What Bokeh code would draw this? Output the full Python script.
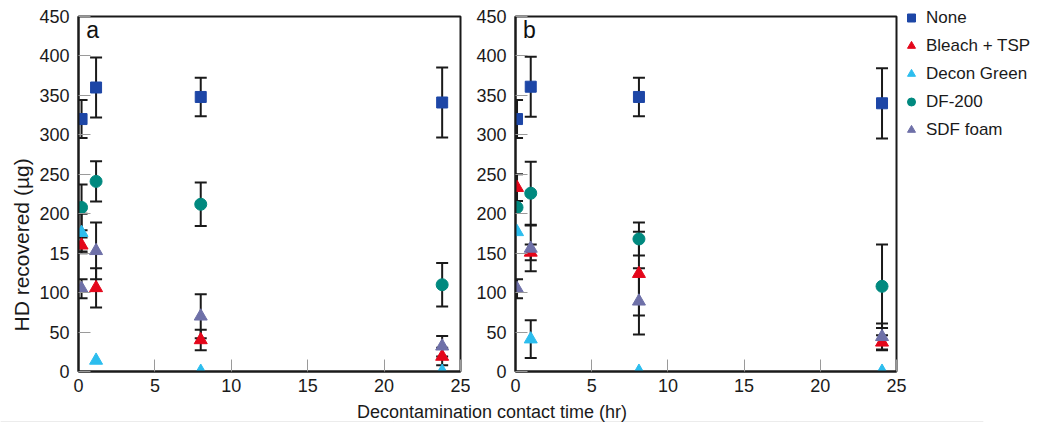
from bokeh.plotting import figure
from bokeh.models import Label, Legend, LegendItem, Range1d, FixedTicker, Title
from bokeh.layouts import row, column
from bokeh.embed import file_html
from bokeh.resources import INLINE

# ---------------- data ----------------
series = ["None", "Bleach + TSP", "Decon Green", "DF-200", "SDF foam"]
colors = ["#1d46a6", "#e4061a", "#2cbdee", "#00897f", "#6e70a8"]
markers = ["square", "triangle", "triangle", "circle", "triangle"]
sizes = [11, 13, 13, 12, 13]

x_ticks = [0, 5, 10, 15, 20, 25]
y_ticks = [0, 50, 100, 150, 200, 250, 300, 350, 400, 450]

# panel a
time_a = [0.2, 1.15, 8.0, 23.8]
none_a = [320, 360, 348, 341]
none_a_err = [24, 38, 24.5, 44.5]
bleach_a = [160, 106, 40, 19]
bleach_a_err = [10, 25, 13, 11]
decon_a = [176, 14, 0, 0]
decon_a_err = [24, 0, 0, 0]
df200_a = [208, 241, 212, 110]
df200_a_err = [29, 25.5, 27.5, 27.5]
sdf_a = [105, 153, 70, 32]
sdf_a_err = [12, 36, 28, 13]

# panel b
time_b = [0.1, 1.0, 8.1, 24.05]
none_b = [320, 361, 348, 340]
none_b_err = [24, 38, 24.5, 44.5]
bleach_b = [233, 151, 124, 37]
bleach_b_err = [17, 10, 53, 9]
decon_b = [177, 41, 0, 0]
decon_b_err = [0, 24, 0, 0]
df200_b = [208, 226, 168, 108]
df200_b_err = [0, 40, 21, 53]
sdf_b = [105, 156, 89, 44]
sdf_b_err = [12, 29, 42, 17]

vals_a = [none_a, bleach_a, decon_a, df200_a, sdf_a]
errs_a = [none_a_err, bleach_a_err, decon_a_err, df200_a_err, sdf_a_err]
vals_b = [none_b, bleach_b, decon_b, df200_b, sdf_b]
errs_b = [none_b_err, bleach_b_err, decon_b_err, df200_b_err, sdf_b_err]

FONT = "Liberation Sans"
DARK = "#1a1a1a"


def make_panel(times, vals, errs, tag, fw, left, right, overrides):
    p = figure(frame_width=fw, frame_height=355,
               x_range=Range1d(0, 25), y_range=Range1d(0, 450),
               output_backend="svg", toolbar_location=None,
               min_border_left=left, min_border_right=right,
               min_border_top=16, min_border_bottom=28)
    p.xgrid.grid_line_color = None
    p.ygrid.grid_line_color = None
    p.outline_line_color = DARK
    p.outline_line_width = 2
    p.outline_line_alpha = 1
    p.xaxis.ticker = FixedTicker(ticks=x_ticks)
    p.yaxis.ticker = FixedTicker(ticks=y_ticks)
    for ax in (p.xaxis, p.yaxis):
        ax.major_tick_in = 12
        ax.major_tick_out = 0
        ax.minor_tick_line_color = None
        ax.major_tick_line_color = "#9a9a9a"
        ax.major_tick_line_width = 1
        ax.axis_line_color = DARK
        ax.axis_line_width = 2
        ax.major_label_text_font = FONT
        ax.major_label_text_font_size = "18px"
        ax.major_label_text_color = DARK
    p.xaxis.major_label_standoff = 7
    p.yaxis.major_label_standoff = 9
    if overrides:
        p.yaxis.major_label_overrides = overrides

    # error bars (drawn first so markers sit on top)
    for v, e in zip(vals, errs):
        xs = [t for t, ee in zip(times, e) if ee > 0]
        lo = [vv - ee for vv, ee in zip(v, e) if ee > 0]
        hi = [vv + ee for vv, ee in zip(v, e) if ee > 0]
        if xs:
            p.segment(x0=xs, y0=lo, x1=xs, y1=hi, line_color=DARK, line_width=2)
            p.scatter(xs + xs, lo + hi, marker="dash", size=12,
                      line_color=DARK, line_width=2)
    rends = []
    for v, c, m, s in zip(vals, colors, markers, sizes):
        r = p.scatter(times, v, marker=m, size=s, fill_color=c, line_color=c)
        rends.append(r)

    p.add_layout(Label(x=0.5, y=450, text=tag, text_baseline="top",
                       text_font=FONT, text_font_size="23px", text_color="#111111"))
    return p, rends


pa, _ = make_panel(time_a, vals_a, errs_a, "a", 382, 78, 10, {150: "15"})
pb, rb = make_panel(time_b, vals_b, errs_b, "b", 381, 45, 142, None)

pa.add_layout(Title(text="HD recovered (\u00b5g)", align="left", offset=40,
                    text_font=FONT, text_font_size="21px", text_font_style="normal",
                    text_color=DARK, standoff=8), "left")

legend = Legend(items=[LegendItem(label=s, renderers=[r]) for s, r in zip(series, rb)],
                location=(5, 231), padding=0, margin=0, spacing=7,
                glyph_width=20, glyph_height=21, label_height=21, label_standoff=5,
                label_text_font=FONT, label_text_font_size="17px",
                label_text_color=DARK, border_line_alpha=0,
                background_fill_alpha=0)
pb.add_layout(legend, "right")

pl = figure(frame_width=983, frame_height=1, x_range=Range1d(0, 1), y_range=Range1d(0, 1),
            output_backend="svg", toolbar_location=None,
            x_axis_location=None, y_axis_location=None,
            min_border_left=0, min_border_right=55, min_border_top=0, min_border_bottom=0,
            title="Decontamination contact time (hr)")
pl.title.align = "center"
pl.title.text_font = FONT
pl.title.text_font_size = "18px"
pl.title.text_font_style = "normal"
pl.title.text_color = DARK
pl.title.standoff = 0
pl.outline_line_color = None

layout = column(row(pa, pb), pl)
open("out.html", "w").write(file_html(layout, INLINE))
